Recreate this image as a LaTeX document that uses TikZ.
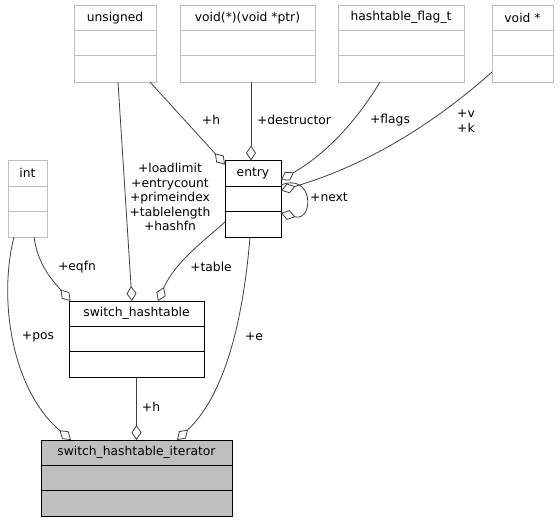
\documentclass[tikz,border=0pt]{standalone}
\usepackage{fontspec}
\setmainfont{DejaVu Sans}
\usetikzlibrary{arrows.meta}
\definecolor{extgray}{HTML}{BFBFBF}
\definecolor{edgegray}{HTML}{404040}
\definecolor{itfill}{HTML}{BFBFBF}
\newcommand{\boxfont}{\fontsize{12.3}{14.5}\selectfont}
\newcommand{\umlbox}[8]{%
  \node[#1, minimum width=#6pt, minimum height=#7pt] (#3) at (#4,#5) {};
  \node[font=\boxfont, inner sep=0] (#3-t) at ([yshift=-12.75pt]#3.north) {#8};
  \draw[#2] ([yshift=-25.75pt]#3.north west) -- ([yshift=-25.75pt]#3.north east);
  \draw[#2] ([yshift=-50.75pt]#3.north west) -- ([yshift=-50.75pt]#3.north east);
}
\tikzset{
  extbox/.style={draw=extgray, line width=1pt, inner sep=0, outer sep=0, anchor=north west},
  clsbox/.style={draw=black, line width=1pt, inner sep=0, outer sep=0, anchor=north west},
  itbox/.style={draw=black, fill=itfill, line width=1pt, inner sep=0, outer sep=0, anchor=north west},
  extline/.style={draw=extgray, line width=1pt},
  clsline/.style={draw=black, line width=1pt},
  agg/.style={draw=edgegray, line width=0.8pt, -{Diamond[open, length=15pt, width=10pt, line width=0.8pt]}},
  lbl/.style={font=\boxfont, inner sep=0, align=center},
}
\begin{document}
\begin{tikzpicture}[x=1pt, y=-1pt]
\useasboundingbox (0,0) rectangle (560,523);
% boxes
\umlbox{extbox}{extline}{unsigned}{74}{5}{82}{77}{unsigned}
\umlbox{extbox}{extline}{voidfn}{180}{5}{135}{77}{void(*)(void *ptr)}
\umlbox{extbox}{extline}{flag}{338}{5}{126}{77}{hashtable\_flag\_t}
\umlbox{extbox}{extline}{voidp}{492}{5}{61}{77}{void *}
\umlbox{extbox}{extline}{int}{8}{160.5}{39}{76.5}{int}
\umlbox{clsbox}{clsline}{entry}{225}{160.5}{56}{76.5}{entry}
\umlbox{clsbox}{clsline}{sh}{69}{301}{135}{76}{switch\_hashtable}
\umlbox{itbox}{clsline}{it}{41}{440}{191}{76}{switch\_hashtable\_iterator}
% connectors
\draw[agg] ([xshift=76pt]unsigned.south west) -- ([yshift=-4pt]entry.north west);
\draw[agg] ([xshift=71pt]voidfn.south west) -- ([xshift=26pt]entry.north west);
\draw[agg] ([xshift=42pt]flag.south west) .. controls (360,115) and (332,150) .. ([yshift=-19.5pt]entry.north east);
\draw[agg] ([yshift=-67pt]voidp.north west) .. controls (455,105) and (385,160) .. ([yshift=-30pt]entry.north east);
\draw[agg] ([yshift=-24.5pt]entry.north east) .. controls (314,172) and (314,222) .. ([yshift=-52.5pt]entry.north east);
\draw[agg] ([xshift=44pt]unsigned.south west) -- ([xshift=63pt]sh.north west);
\draw[agg] ([xshift=26pt]int.south west) .. controls (38,265) and (52,280) .. ([xshift=1.5pt]sh.north west);
\draw[agg] ([yshift=-61.5pt]entry.north west) .. controls (205,240) and (175,262) .. ([xshift=89pt]sh.north west);
\draw[agg] ([xshift=6pt]int.south west) .. controls (-2,300) and (12,390) .. ([xshift=30pt]it.north west);
\draw[agg] ([xshift=67.5pt]sh.south west) -- ([xshift=95.5pt]it.north west);
\draw[agg] ([xshift=25pt]entry.south west) .. controls (244,310) and (228,392) .. ([xshift=136pt]it.north west);
% labels
\node[lbl] (l-h1) at (211,120) {+h};
\node[lbl] (l-destr) at (294,120) {+destructor};
\node[lbl] (l-flags) at (390,120) {+flags};
\node[lbl, align=left] (l-vk) at (466,121) {+v\\+k};
\node[lbl] (l-next) at (329,197) {+next};
\node[lbl] (l-multi) at (170,197) {+loadlimit\\+entrycount\\+primeindex\\+tablelength\\+hashfn};
\node[lbl] (l-eqfn) at (77,267) {+eqfn};
\node[lbl] (l-table) at (211,267) {+table};
\node[lbl] (l-pos) at (38,337) {+pos};
\node[lbl] (l-e) at (254,337) {+e};
\node[lbl] (l-h2) at (151,407) {+h};
\end{tikzpicture}
\end{document}
